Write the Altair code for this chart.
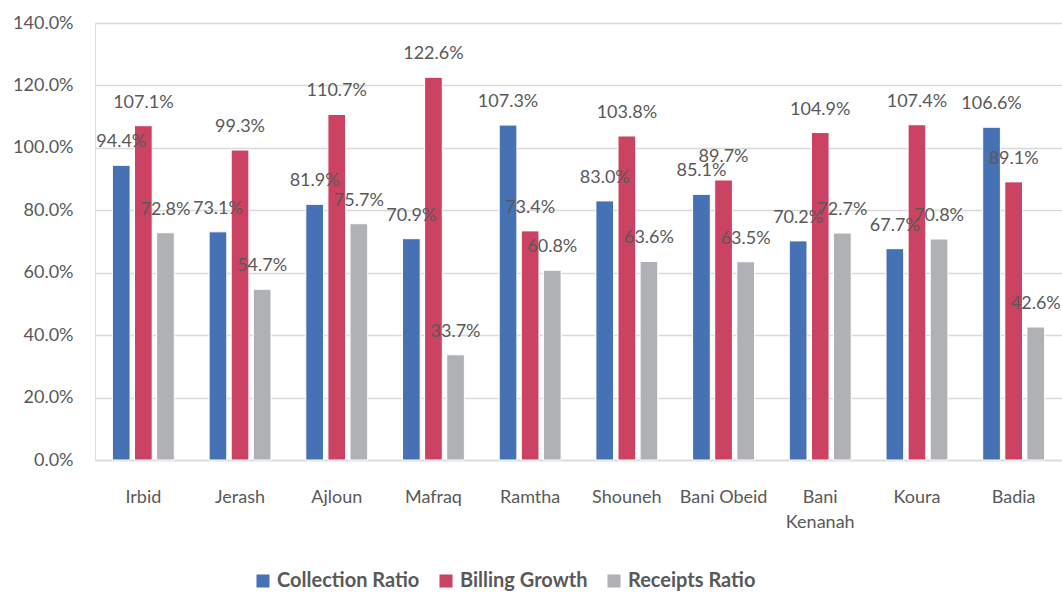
import altair as alt
import pandas as pd

categories = ["Irbid", "Jerash", "Ajloun", "Mafraq", "Ramtha", "Shouneh",
              "Bani Obeid", "Bani Kenanah", "Koura", "Badia"]
series = ["Collection Ratio", "Billing Growth", "Receipts Ratio"]
collection_ratio = [94.4, 73.1, 81.9, 70.9, 107.3, 83.0, 85.1, 70.2, 67.7, 106.6]
billing_growth = [107.1, 99.3, 110.7, 122.6, 73.4, 103.8, 89.7, 104.9, 107.4, 89.1]
receipts_ratio = [72.8, 54.7, 75.7, 33.7, 60.8, 63.6, 63.5, 72.7, 70.8, 42.6]
colors = ["#4671B5", "#CC4262", "#B0B1B4"]
y_ticks = [0, 20, 40, 60, 80, 100, 120, 140]

rows = []
for name, vals in zip(series, [collection_ratio, billing_growth, receipts_ratio]):
    for c, v in zip(categories, vals):
        rows.append({"District": c, "Series": name, "Value": v})
df = pd.DataFrame(rows)

FONT = "Lato"
TXT = "#595959"

x_enc = alt.X("District:N", sort=categories,
              scale=alt.Scale(paddingInner=0.36, paddingOuter=0.18),
              axis=alt.Axis(title=None, labelAngle=0, labelFontSize=18, labelColor=TXT,
                            labelFont=FONT, ticks=False, domainColor="#D9D9D9",
                            domainWidth=1.5, labelPadding=28, labelLineHeight=25,
                            labelExpr="datum.label == 'Bani Kenanah' ? ['Bani', 'Kenanah'] : datum.label"))
xoff = alt.XOffset("Series:N", sort=series, scale=alt.Scale(paddingInner=0.2))
y_enc = alt.Y("Value:Q", scale=alt.Scale(domain=[0, 140], nice=False),
              axis=alt.Axis(title=None, values=y_ticks, labelExpr="format(datum.value, '.1f') + '%'",
                            labelFontSize=18, labelColor=TXT, labelFont=FONT, domain=False,
                            ticks=False, labelPadding=22, gridColor="#D9D9D9", gridWidth=1.5))

color_enc = alt.Color("Series:N", scale=alt.Scale(domain=series, range=colors),
                      legend=alt.Legend(title=None, orient="none", direction="horizontal",
                                        legendX=158, legendY=548, symbolType="square",
                                        symbolSize=170, symbolStrokeWidth=0,
                                        labelFontSize=20, labelFontWeight="bold",
                                        labelFont=FONT, labelColor=TXT, columnPadding=16,
                                        labelOffset=4))

bars = alt.Chart(df).mark_bar(stroke="white", strokeWidth=1).encode(
    x=x_enc, xOffset=xoff, y=y_enc, color=color_enc)

labels = alt.Chart(df).transform_calculate(
    txt="format(datum.Value, '.1f') + '%'"
).mark_text(baseline="middle", dy=-23, fontSize=18, font=FONT, color=TXT).encode(
    x=alt.X("District:N", sort=categories), xOffset=xoff, y="Value:Q", text="txt:N")

chart = alt.layer(bars, labels).properties(
    width=967, height=437,
    autosize=alt.AutoSizeParams(type="none"),
    padding={"left": 95, "top": 23, "right": 0, "bottom": 133},
).configure_view(stroke=None).configure(background="white")

chart.save("out.html", embed_options={"renderer": "svg", "actions": False})
